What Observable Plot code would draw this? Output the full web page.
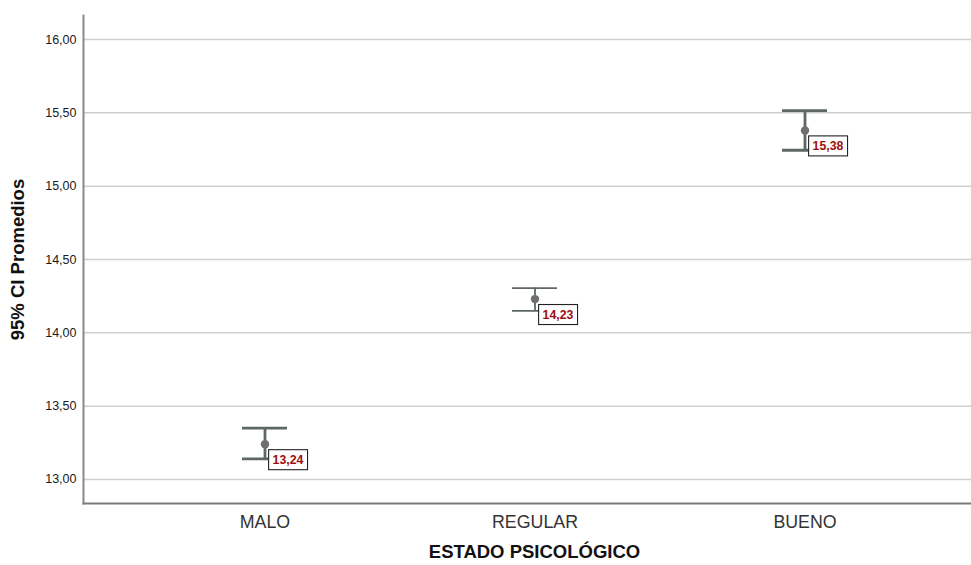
<!DOCTYPE html>
<html>
<head>
<meta charset="utf-8">
<script src="https://cdn.jsdelivr.net/npm/d3@7"></script>
<script src="https://cdn.jsdelivr.net/npm/@observablehq/plot@0.6"></script>
<style>
  body { margin: 0; background: #fff; }
  svg { display: block; }
</style>
</head>
<body>
<div id="chart"></div>
<script>
// Estado psicológico: media y IC 95%
const categories = ["MALO", "REGULAR", "BUENO"];
const means = [13.24, 14.23, 15.38];
const lower = [13.14, 14.15, 15.245];
const upper = [13.35, 14.305, 15.515];
const yTicks = [13, 13.5, 14, 14.5, 15, 15.5, 16];

const rows = categories.map((c, i) => ({
  estado: c, mean: means[i], low: lower[i], high: upper[i]
}));

const coma = (v) => v.toFixed(2).replace(".", ",");
const barWidth = {MALO: 2.8, REGULAR: 1.8, BUENO: 2.8};
const barColor = "#5d6865";

const font = "'Liberation Sans', Arial, sans-serif";

const chart = Plot.plot({
  width: 971,
  height: 565,
  marginTop: 15,
  marginLeft: 83,
  marginRight: 0,
  marginBottom: 62,
  style: {fontFamily: font, background: "#fff"},
  x: {
    type: "band",
    domain: categories,
    range: [241.5, 827.5],
    paddingInner: 0.834,
    paddingOuter: 0,
    label: null
  },
  y: {domain: [12.836, 16.164], label: null},
  marks: [
    Plot.gridY(yTicks, {stroke: "#cfcfcf", strokeOpacity: 1, strokeWidth: 1.5}),
    Plot.axisY(yTicks, {
      tickSize: 0, tickPadding: 7, tickFormat: coma,
      fontSize: 12.5, fill: "#1a1a1a", label: null
    }),
    Plot.axisX({
      tickSize: 0, tickPadding: 12, fontSize: 17.8, fill: "#333", label: null
    }),
    Plot.frame({anchor: "left", stroke: "#8a8a8a", strokeWidth: 2}),
    Plot.frame({anchor: "bottom", stroke: "#7a7a7a", strokeWidth: 2}),
    // intervalo de confianza
    Plot.ruleX(rows, {
      x: "estado", y1: "low", y2: "high",
      stroke: barColor, strokeWidth: (d) => barWidth[d.estado]
    }),
    Plot.tickY(rows, {
      x: "estado", y: "high",
      stroke: barColor, strokeWidth: (d) => barWidth[d.estado]
    }),
    Plot.tickY(rows, {
      x: "estado", y: "low",
      stroke: barColor, strokeWidth: (d) => barWidth[d.estado]
    }),
    // media
    Plot.dot(rows, {x: "estado", y: "mean", r: 4.2, fill: "#6f6f6f", stroke: "none"}),
    // etiqueta de la media
    Plot.text(rows, {
      x: "estado", y: "mean", text: (d) => coma(d.mean),
      dx: 23, dy: 15.5, fontSize: 12.3, fontWeight: "bold",
      fill: "#a00d0d", textAnchor: "middle", ariaLabel: () => "etiqueta-media"
    }),
    // títulos de los ejes
    Plot.text(["ESTADO PSICOLÓGICO"], {
      frameAnchor: "bottom", dx: 7, dy: 54, fontSize: 18.5,
      fontWeight: "bold", fill: "#111"
    }),
    Plot.text(["95% CI Promedios"], {
      frameAnchor: "left", textAnchor: "middle", dx: -65, rotate: -90,
      fontSize: 18.5, fontWeight: "bold", fill: "#111"
    })
  ]
});

document.getElementById("chart").appendChild(chart);

// recuadro blanco detrás de cada etiqueta de la media
d3.select(chart).selectAll("g[aria-label='text'] text").each(function () {
  if (!/^\d+,\d\d$/.test(this.textContent)) return;
  const b = this.getBBox();
  const t = this.getAttribute("transform");
  const rect = document.createElementNS("http://www.w3.org/2000/svg", "rect");
  rect.setAttribute("x", b.x - 4);
  rect.setAttribute("y", b.y - 3);
  rect.setAttribute("width", b.width + 8);
  rect.setAttribute("height", b.height + 6);
  rect.setAttribute("fill", "#fff");
  rect.setAttribute("stroke", "#222");
  rect.setAttribute("stroke-width", 1.1);
  if (t) rect.setAttribute("transform", t);
  this.parentNode.insertBefore(rect, this);
});
</script>
</body>
</html>
